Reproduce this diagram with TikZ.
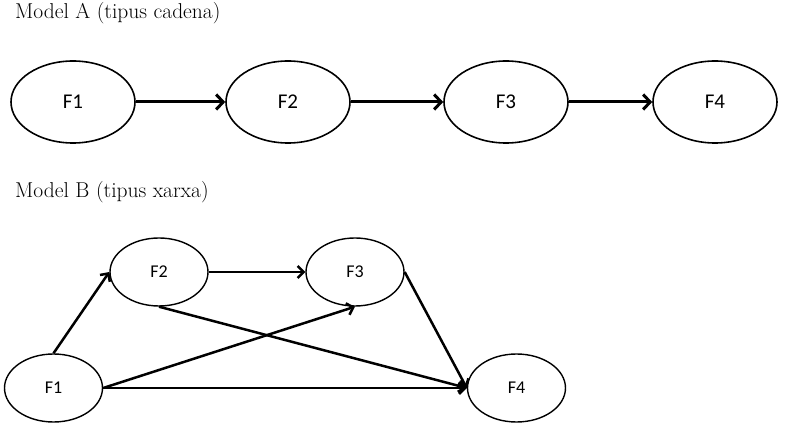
\documentclass[tikz,border=0pt]{standalone}
\usepackage{fontspec}
\newfontfamily\nodefont{Carlito}
\usetikzlibrary{shapes.geometric,arrows.meta}
\tikzset{
  bigell/.style={ellipse,draw=black,line width=1.6pt,fill=white,minimum width=124pt,minimum height=82pt,inner sep=0pt,font=\nodefont\fontsize{21}{25}\selectfont},
  smallell/.style={ellipse,draw=black,line width=1.4pt,fill=white,minimum width=98pt,minimum height=68pt,inner sep=0pt,font=\nodefont\fontsize{18}{21}\selectfont},
  titletext/.style={anchor=base west,inner sep=0pt,font=\fontsize{21.5}{25}\selectfont},
  bigarrow/.style={line width=3pt,-{Straight Barb[length=7pt,width=15pt]}},
  smallarrow/.style={line width=2.5pt,-{Straight Barb[length=6pt,width=12pt]}}
}
\begin{document}
\begin{tikzpicture}[x=1pt,y=1pt]
\useasboundingbox (0,0) rectangle (785,431);
\node[titletext] (ta) at (15,412) {Model A (tipus cadena)};
\node[titletext] (tb) at (15,233) {Model B (tipus xarxa)};
% Model A
\node[bigell] (a1) at (73,329) {F1};
\node[bigell] (a2) at (288,329) {F2};
\node[bigell] (a3) at (506,329) {F3};
\node[bigell] (a4) at (715,329) {F4};
\draw[bigarrow] (a1.east) -- (a2.west);
\draw[bigarrow] (a2.east) -- (a3.west);
\draw[bigarrow] (a3.east) -- (a4.west);
% Model B
\node[smallell] (b2) at (159,159) {F2};
\node[smallell] (b3) at (355,159) {F3};
\node[smallell] (b1) at (53.5,43) {F1};
\node[smallell] (b4) at (516.5,43) {F4};
\draw[smallarrow] (b1.north) -- (b2.west);
\draw[smallarrow] (b2.east) -- (b3.west);
\draw[smallarrow] (b2.south) -- (b4.west);
\draw[smallarrow] (b1.east) -- (b3.south);
\draw[smallarrow] (b1.east) -- (b4.west);
\draw[smallarrow] (b3.east) -- (b4.west);
\end{tikzpicture}
\end{document}
